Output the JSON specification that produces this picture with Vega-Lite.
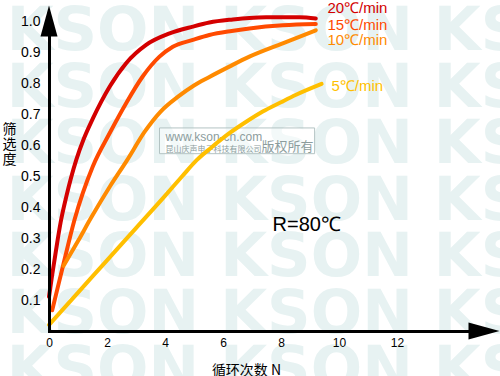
{
  "$schema": "https://vega.github.io/schema/vega-lite/v6.json",
  "width": 435,
  "height": 310,
  "autosize": {"type": "none"},
  "padding": {"left": 49, "top": 21, "right": 16, "bottom": 45},
  "background": "white",
  "config": {"view": {"stroke": null}},
  "datasets": {
    "curves": [
      {"series": "20℃/min", "N": 0, "s": 0.11},
      {"series": "20℃/min", "N": 0.1, "s": 0.175},
      {"series": "20℃/min", "N": 0.2, "s": 0.235},
      {"series": "20℃/min", "N": 0.3, "s": 0.295},
      {"series": "20℃/min", "N": 0.4, "s": 0.35},
      {"series": "20℃/min", "N": 0.6, "s": 0.435},
      {"series": "20℃/min", "N": 0.94, "s": 0.552},
      {"series": "20℃/min", "N": 1.2, "s": 0.62},
      {"series": "20℃/min", "N": 1.51, "s": 0.685},
      {"series": "20℃/min", "N": 2.09, "s": 0.788},
      {"series": "20℃/min", "N": 2.66, "s": 0.864},
      {"series": "20℃/min", "N": 3.35, "s": 0.923},
      {"series": "20℃/min", "N": 4.16, "s": 0.96},
      {"series": "20℃/min", "N": 4.96, "s": 0.982},
      {"series": "20℃/min", "N": 5.53, "s": 0.995},
      {"series": "20℃/min", "N": 6.34, "s": 1.005},
      {"series": "20℃/min", "N": 6.91, "s": 1.01},
      {"series": "20℃/min", "N": 7.49, "s": 1.012},
      {"series": "20℃/min", "N": 8.64, "s": 1.012},
      {"series": "20℃/min", "N": 9.2, "s": 1.008},
      {"series": "15℃/min", "N": 0.11, "s": 0.067},
      {"series": "15℃/min", "N": 0.3, "s": 0.14},
      {"series": "15℃/min", "N": 0.48, "s": 0.209},
      {"series": "15℃/min", "N": 0.88, "s": 0.359},
      {"series": "15℃/min", "N": 1.51, "s": 0.531},
      {"series": "15℃/min", "N": 2.09, "s": 0.638},
      {"series": "15℃/min", "N": 2.66, "s": 0.735},
      {"series": "15℃/min", "N": 3.23, "s": 0.821},
      {"series": "15℃/min", "N": 3.81, "s": 0.885},
      {"series": "15℃/min", "N": 4.27, "s": 0.917},
      {"series": "15℃/min", "N": 4.96, "s": 0.939},
      {"series": "15℃/min", "N": 5.53, "s": 0.955},
      {"series": "15℃/min", "N": 6.3, "s": 0.968},
      {"series": "15℃/min", "N": 6.91, "s": 0.976},
      {"series": "15℃/min", "N": 8.06, "s": 0.986},
      {"series": "15℃/min", "N": 9.2, "s": 0.99},
      {"series": "10℃/min", "N": 0.5, "s": 0.21},
      {"series": "10℃/min", "N": 1.0, "s": 0.29},
      {"series": "10℃/min", "N": 1.45, "s": 0.365},
      {"series": "10℃/min", "N": 2.1, "s": 0.466},
      {"series": "10℃/min", "N": 2.7, "s": 0.552},
      {"series": "10℃/min", "N": 3.3, "s": 0.643},
      {"series": "10℃/min", "N": 3.85, "s": 0.708},
      {"series": "10℃/min", "N": 4.45, "s": 0.756},
      {"series": "10℃/min", "N": 5.0, "s": 0.792},
      {"series": "10℃/min", "N": 5.5, "s": 0.818},
      {"series": "10℃/min", "N": 6.2, "s": 0.852},
      {"series": "10℃/min", "N": 6.91, "s": 0.885},
      {"series": "10℃/min", "N": 8.06, "s": 0.928},
      {"series": "10℃/min", "N": 9.2, "s": 0.97},
      {"series": "5℃/min", "N": 0, "s": 0.02},
      {"series": "5℃/min", "N": 1, "s": 0.124},
      {"series": "5℃/min", "N": 2, "s": 0.228},
      {"series": "5℃/min", "N": 3, "s": 0.332},
      {"series": "5℃/min", "N": 4, "s": 0.436},
      {"series": "5℃/min", "N": 4.6, "s": 0.5},
      {"series": "5℃/min", "N": 5.1, "s": 0.552},
      {"series": "5℃/min", "N": 5.6, "s": 0.592},
      {"series": "5℃/min", "N": 6.22, "s": 0.638},
      {"series": "5℃/min", "N": 6.8, "s": 0.675},
      {"series": "5℃/min", "N": 7.37, "s": 0.708},
      {"series": "5℃/min", "N": 8.0, "s": 0.738},
      {"series": "5℃/min", "N": 8.52, "s": 0.762},
      {"series": "5℃/min", "N": 9.4, "s": 0.797}
    ],
    "labels": [
      {"series": "20℃/min", "N": 9.6, "s": 1.026},
      {"series": "15℃/min", "N": 9.6, "s": 0.971},
      {"series": "10℃/min", "N": 9.6, "s": 0.923},
      {"series": "5℃/min", "N": 9.74, "s": 0.773}
    ],
    "note": [{"t": "R=80℃", "N": 7.71, "s": 0.324}],
    "watermark": [
      {"t": "KSON KSON KS", "N": -1.46, "s": 0.907},
      {"t": "KSON KSON KS", "N": -1.46, "s": 0.724},
      {"t": "KSON KSON KS", "N": -1.46, "s": 0.542},
      {"t": "KSON KSON KS", "N": -1.46, "s": 0.359},
      {"t": "KSON KSON KS", "N": -1.46, "s": 0.177},
      {"t": "KSON KSON KS", "N": -1.46, "s": -0.006},
      {"t": "KSON KSON KS", "N": -1.46, "s": -0.188}
    ],
    "stampbox": [{"N": 3.81, "N2": 9.16, "s": 0.655, "s2": 0.572}],
    "stamptext": [
      {"part": "url", "t": "www.kson-cn.com", "N": 4.02, "s": 0.612},
      {"part": "co", "t": "昆山庆声电子科技有限公司", "N": 4.02, "s": 0.578},
      {"part": "cr", "t": "版权所有", "N": 7.33, "s": 0.581}
    ],
    "arrows": [
      {"dir": "up", "N": 0, "s": 1},
      {"dir": "right", "N": 15, "s": 0}
    ]
  },
  "encoding": {
    "x": {
      "field": "N", "type": "quantitative",
      "scale": {"domain": [0, 15], "nice": false, "zero": false},
      "axis": {
        "values": [0, 2, 4, 6, 8, 10, 12],
        "title": "循环次数 N",
        "grid": false, "ticks": false, "tickSize": 0,
        "domainColor": "black", "domainWidth": 3, "domainCap": "square",
        "labelFont": "Liberation Sans", "labelFontSize": 12, "labelColor": "black",
        "labelPadding": 6, "labelFlush": false, "labelOverlap": false,
        "titleFont": "Noto Sans CJK SC", "titleFontSize": 14, "titleFontWeight": "normal",
        "titleColor": "black", "titleX": 197, "titleY": 43, "titleBaseline": "alphabetic",
        "zindex": 1
      }
    },
    "y": {
      "field": "s", "type": "quantitative",
      "scale": {"domain": [0, 1], "nice": false, "zero": false},
      "axis": {
        "values": [0.1, 0.2, 0.3, 0.4, 0.5, 0.6, 0.7, 0.8, 0.9, 1.0],
        "format": ".1f",
        "title": ["筛", "选", "度"],
        "grid": false, "ticks": false, "tickSize": 0,
        "domainColor": "black", "domainWidth": 3, "domainCap": "square",
        "labelFont": "Liberation Sans", "labelFontSize": 14, "labelColor": "black",
        "labelPadding": 9, "labelFlush": false, "labelOverlap": false,
        "titleFont": "Noto Sans CJK SC", "titleFontSize": 14, "titleFontWeight": "normal",
        "titleColor": "black", "titleAngle": 0, "titleAlign": "left", "titleBaseline": "top",
        "titleX": -47, "titleY": 101, "titleLineHeight": 15,
        "zindex": 1
      }
    }
  },
  "layer": [
    {
      "data": {"name": "watermark"},
      "mark": {"type": "text", "font": "DejaVu Sans", "fontWeight": "bold", "fontSize": 60.5, "color": "#e7f2f2", "align": "left", "baseline": "alphabetic"},
      "encoding": {"text": {"field": "t"}}
    },
    {
      "data": {"name": "stampbox"},
      "mark": {"type": "rect", "fill": "white", "fillOpacity": 0.5, "stroke": "#b3c3c3", "strokeWidth": 1},
      "encoding": {"x2": {"field": "N2"}, "y2": {"field": "s2"}}
    },
    {
      "data": {"name": "stamptext"},
      "transform": [{"filter": "datum.part === 'url'"}],
      "mark": {"type": "text", "font": "Liberation Sans", "fontSize": 12, "color": "#8c9d9d", "align": "left", "baseline": "alphabetic"},
      "encoding": {"text": {"field": "t"}}
    },
    {
      "data": {"name": "stamptext"},
      "transform": [{"filter": "datum.part === 'co'"}],
      "mark": {"type": "text", "font": "Noto Sans CJK SC", "fontSize": 8, "color": "#8c9d9d", "align": "left", "baseline": "alphabetic"},
      "encoding": {"text": {"field": "t"}}
    },
    {
      "data": {"name": "stamptext"},
      "transform": [{"filter": "datum.part === 'cr'"}],
      "mark": {"type": "text", "font": "Noto Sans CJK SC", "fontSize": 13, "color": "#8c9d9d", "align": "left", "baseline": "alphabetic"},
      "encoding": {"text": {"field": "t"}}
    },
    {
      "data": {"name": "curves"},
      "mark": {"type": "line", "strokeWidth": 4, "interpolate": "monotone", "strokeCap": "round"},
      "encoding": {
        "color": {
          "field": "series", "type": "nominal",
          "scale": {"domain": ["20℃/min", "15℃/min", "10℃/min", "5℃/min"], "range": ["#d40000", "#ff4a00", "#ff8a00", "#ffbf00"]},
          "legend": null
        }
      }
    },
    {
      "data": {"name": "labels"},
      "mark": {"type": "text", "font": "Liberation Sans", "fontSize": 15, "align": "left", "baseline": "alphabetic"},
      "encoding": {
        "text": {"field": "series"},
        "color": {"field": "series", "type": "nominal", "legend": null}
      }
    },
    {
      "data": {"name": "note"},
      "mark": {"type": "text", "font": "Liberation Sans", "fontSize": 20, "color": "black", "align": "left", "baseline": "alphabetic"},
      "encoding": {"text": {"field": "t"}}
    },
    {
      "data": {"name": "arrows"},
      "mark": {"type": "point", "filled": true, "size": 961, "color": "black", "opacity": 1, "strokeWidth": 0},
      "encoding": {
        "shape": {
          "field": "dir", "type": "nominal",
          "scale": {"domain": ["up", "right"], "range": ["M0,-1L0.55,1L-0.55,1Z", "M1,0L-1,-0.55L-1,0.55Z"]},
          "legend": null
        }
      }
    }
  ]
}
